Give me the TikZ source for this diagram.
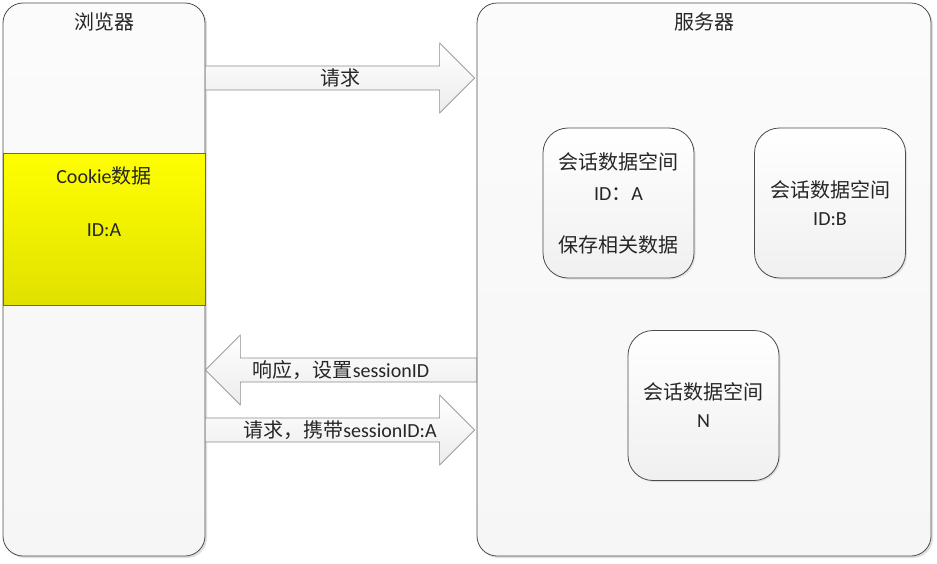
\documentclass[tikz,border=0pt]{standalone}
\usepackage{fontspec}
\setmainfont{Noto Sans CJK SC}
\newfontfamily\latfont{Carlito}
\usetikzlibrary{calc,shadows}

\tikzset{
  panel/.style={draw=black!70, line width=0.8pt, rounded corners=20pt,
    top color=gray!3, bottom color=gray!7,
    drop shadow={opacity=0.25, shadow xshift=2pt, shadow yshift=-2pt}},
  cookiebox/.style={draw=black!60, line width=0.8pt,
    top color=yellow, bottom color=yellow!88!black},
  spacebox/.style={draw=black!70, line width=0.8pt, rounded corners=25pt,
    top color=white, bottom color=gray!12, minimum width=151, minimum height=150,
    drop shadow={opacity=0.2, shadow xshift=1.5pt, shadow yshift=-1.5pt}},
  blockarrow/.style={draw=black!45, line width=0.6pt,
    top color=white, bottom color=gray!15},
  label/.style={text=black!85, align=center, inner sep=0pt,
    font=\fontsize{20}{28}\selectfont}
}

\begin{document}
\begin{tikzpicture}[x=1pt, y=-1pt]
\useasboundingbox (0,0) rectangle (937,563);

% Browser side
\node[panel, minimum width=202, minimum height=553] (browser) at (104,279.5) {};
\node[cookiebox, minimum width=202, minimum height=152] (cookie) at (104,229) {};
\node[label] (browsertitle) at (104,22) {浏览器};
\node[label] (cookietext) at (104,201.5) {{\latfont Cookie}数据\\[25pt]{\latfont ID:A}};

% Server side
\node[panel, minimum width=454, minimum height=553] (server) at (704,279.5) {};
\node[label] (servertitle) at (704,22) {服务器};

% Session spaces
\node[spacebox] (spaceA) at (618.5,203) {};
\node[spacebox] (spaceB) at (830,203) {};
\node[spacebox] (spaceN) at (703.5,405.5) {};
\node[label] at (spaceA) {会话数据空间\\[3pt]{\latfont ID}：{\latfont A}\\[24pt]保存相关数据};
\node[label] at (spaceB) {会话数据空间\\{\latfont ID:B}};
\node[label] at (spaceN) {会话数据空间\\{\latfont N}};

% Arrow end points
\coordinate (req start) at (browser.east |- 0,78);
\coordinate (req end) at ($(server.west |- 0,78)+(-2,0)$);
\coordinate (resp start) at (server.west |- 0,370);
\coordinate (resp end) at (browser.east |- 0,370);
\coordinate (reqid start) at (browser.east |- 0,430);
\coordinate (reqid end) at ($(server.west |- 0,430)+(-2,0)$);

% First request
\draw[blockarrow] ($(req start)+(0,-12)$) -- ($(req end)+(-35,-12)$) -- ($(req end)+(-35,-35)$)
  -- (req end) -- ($(req end)+(-35,35)$) -- ($(req end)+(-35,12)$) -- ($(req start)+(0,12)$) -- cycle;
\node[label] at ($(req start)!0.5!(req end)$) {请求};

% Response
\draw[blockarrow] ($(resp start)+(0,-12)$) -- ($(resp end)+(35,-12)$) -- ($(resp end)+(35,-35)$)
  -- (resp end) -- ($(resp end)+(35,35)$) -- ($(resp end)+(35,12)$) -- ($(resp start)+(0,12)$) -- cycle;
\node[label] at ($(resp start)!0.5!(resp end)$) {响应，设置{\latfont sessionID}};

% Request with id
\draw[blockarrow] ($(reqid start)+(0,-12)$) -- ($(reqid end)+(-35,-12)$) -- ($(reqid end)+(-35,-35)$)
  -- (reqid end) -- ($(reqid end)+(-35,35)$) -- ($(reqid end)+(-35,12)$) -- ($(reqid start)+(0,12)$) -- cycle;
\node[label] at ($(reqid start)!0.5!(reqid end)$) {请求，携带{\latfont sessionID:A}};

\end{tikzpicture}
\end{document}
